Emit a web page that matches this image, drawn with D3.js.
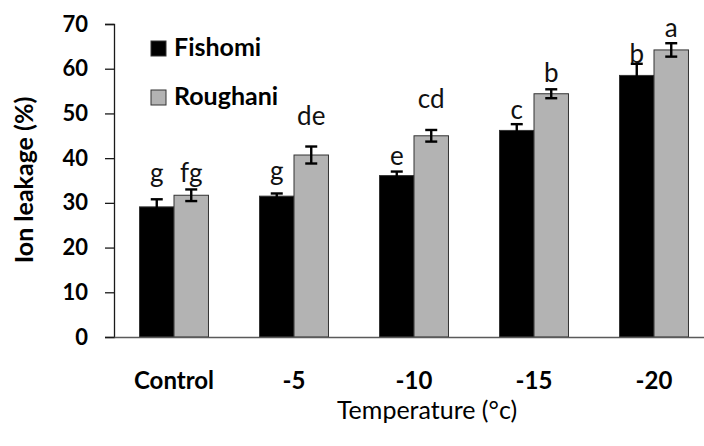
<!DOCTYPE html>
<html>
<head>
<meta charset="utf-8">
<script src="https://cdn.jsdelivr.net/npm/d3@7"></script>
<style>
  body { margin: 0; background: #fff; }
  svg { display: block; font-family: Lato, "Open Sans", sans-serif; }
</style>
</head>
<body>
<svg width="704" height="446"></svg>
<script>
// data
var temps = ["Control", "-5", "-10", "-15", "-20"]
var cultivars = ["Fishomi", "Roughani"]
var fishomi = [29.1, 31.5, 36.1, 46.2, 58.5]
var roughani = [31.7, 40.7, 45.0, 54.4, 64.2]
var fishomiErr = [1.7, 0.6, 0.9, 1.4, 2.6]
var roughaniErr = [1.3, 1.9, 1.3, 1.0, 1.5]
var fishomiLetters = ["g", "g", "e", "c", "b"]
var roughaniLetters = ["fg", "de", "cd", "b", "a"]
// height (in %) where each letter sits
var fishomiLetterAt = [34.7, 35.1, 38.5, 48.8, 61.3]
var roughaniLetterAt = [34.7, 47.4, 51.2, 57.0, 67.1]
var yTicks = [0, 10, 20, 30, 40, 50, 60, 70]

var colors = {Fishomi: "#000000", Roughani: "#b3b3b3"}

var margins = {top: 24, right: -10, bottom: 109, left: 114}
var width = 704 - margins.left - margins.right
var height = 446 - margins.top - margins.bottom

var svg = d3.select("svg")
var g = svg.append("g")
    .attr("transform", "translate(" + margins.left + "," + margins.top + ")")

var xScale = d3.scaleBand()
    .domain(temps)
    .range([0, width])

var xInner = d3.scaleBand()
    .domain(cultivars)
    .range([0, xScale.bandwidth()])
    .paddingInner(0)
    .paddingOuter(0.74)

var yScale = d3.scaleLinear()
    .domain([0, 70])
    .range([height, 0])

// build rows for each bar
var rows = []
temps.forEach(function(t, i) {
    rows.push({temp: t, name: "Fishomi", value: fishomi[i], err: fishomiErr[i], letter: fishomiLetters[i], at: fishomiLetterAt[i]})
    rows.push({temp: t, name: "Roughani", value: roughani[i], err: roughaniErr[i], letter: roughaniLetters[i], at: roughaniLetterAt[i]})
})

// y axis
var yAxis = d3.axisLeft(yScale).tickValues(yTicks).tickSize(9).tickPadding(17)
var yg = g.append("g").attr("class", "y axis").call(yAxis)
yg.select(".domain").attr("stroke", "#1a1a1a").attr("stroke-width", 1.3)
yg.selectAll(".tick line").attr("stroke", "#1a1a1a").attr("stroke-width", 1.3)
yg.selectAll(".tick text")
    .attr("font-family", "Lato, sans-serif")
    .attr("font-size", 22)
    .attr("font-weight", "bold")
    .attr("fill", "#000")

// bars
g.selectAll("rect.bar")
    .data(rows)
    .enter()
    .append("rect")
    .attr("class", "bar")
    .attr("x", function(d) { return xScale(d.temp) + xInner(d.name) })
    .attr("y", function(d) { return yScale(d.value) })
    .attr("width", xInner.bandwidth())
    .attr("height", function(d) { return height - yScale(d.value) })
    .attr("fill", function(d) { return colors[d.name] })
    .attr("stroke", "#333")
    .attr("stroke-width", 1)

// error bars
var cx = function(d) { return xScale(d.temp) + xInner(d.name) + xInner.bandwidth() / 2 }
var eb = g.selectAll("g.err")
    .data(rows)
    .enter()
    .append("g")
    .attr("class", "err")
    .attr("stroke", "#000")
    .attr("stroke-width", 2.4)
eb.append("line")
    .attr("x1", cx).attr("x2", cx)
    .attr("y1", function(d) { return yScale(d.value - d.err) })
    .attr("y2", function(d) { return yScale(d.value + d.err) })
eb.append("line")
    .attr("x1", function(d) { return cx(d) - 6 }).attr("x2", function(d) { return cx(d) + 6 })
    .attr("y1", function(d) { return yScale(d.value + d.err) })
    .attr("y2", function(d) { return yScale(d.value + d.err) })
eb.append("line")
    .attr("x1", function(d) { return cx(d) - 6 }).attr("x2", function(d) { return cx(d) + 6 })
    .attr("y1", function(d) { return yScale(d.value - d.err) })
    .attr("y2", function(d) { return yScale(d.value - d.err) })

// letters
g.selectAll("text.letter")
    .data(rows)
    .enter()
    .append("text")
    .attr("class", "letter")
    .attr("x", cx)
    .attr("y", function(d) { return yScale(d.at) })
    .attr("text-anchor", "middle")
    .attr("font-size", 26)
    .attr("fill", "#111")
    .text(function(d) { return d.letter })

// x axis
var xAxis = d3.axisBottom(xScale).tickSize(0).tickPadding(0)
var xg = g.append("g").attr("class", "x axis")
    .attr("transform", "translate(0," + height + ")")
    .call(xAxis)
xg.select(".domain").attr("stroke", "#5a5a5a").attr("stroke-width", 1.6)
xg.selectAll(".tick text")
    .attr("dy", null)
    .attr("y", 52)
    .attr("font-family", "Lato, sans-serif")
    .attr("font-size", 24)
    .attr("font-weight", "bold")
    .attr("fill", "#000")

// axis titles
svg.append("text")
    .attr("transform", "translate(33,180) rotate(-90)")
    .attr("text-anchor", "middle")
    .attr("font-size", 25)
    .attr("font-weight", "bold")
    .text("Ion leakage (%)")

svg.append("text")
    .attr("x", 427)
    .attr("y", 419)
    .attr("text-anchor", "middle")
    .attr("font-size", 25)
    .text("Temperature (°c)")

// legend
var legend = svg.append("g").attr("transform", "translate(151,41)")
var items = legend.selectAll("g")
    .data(cultivars)
    .enter()
    .append("g")
    .attr("transform", function(d, i) { return "translate(0," + (i * 49) + ")" })
items.append("rect")
    .attr("width", 15).attr("height", 15)
    .attr("fill", function(d) { return colors[d] })
    .attr("stroke", "#333").attr("stroke-width", 1)
items.append("text")
    .attr("x", 23)
    .attr("y", 15)
    .attr("font-size", 25)
    .attr("font-weight", "bold")
    .text(function(d) { return d })
</script>
</body>
</html>
